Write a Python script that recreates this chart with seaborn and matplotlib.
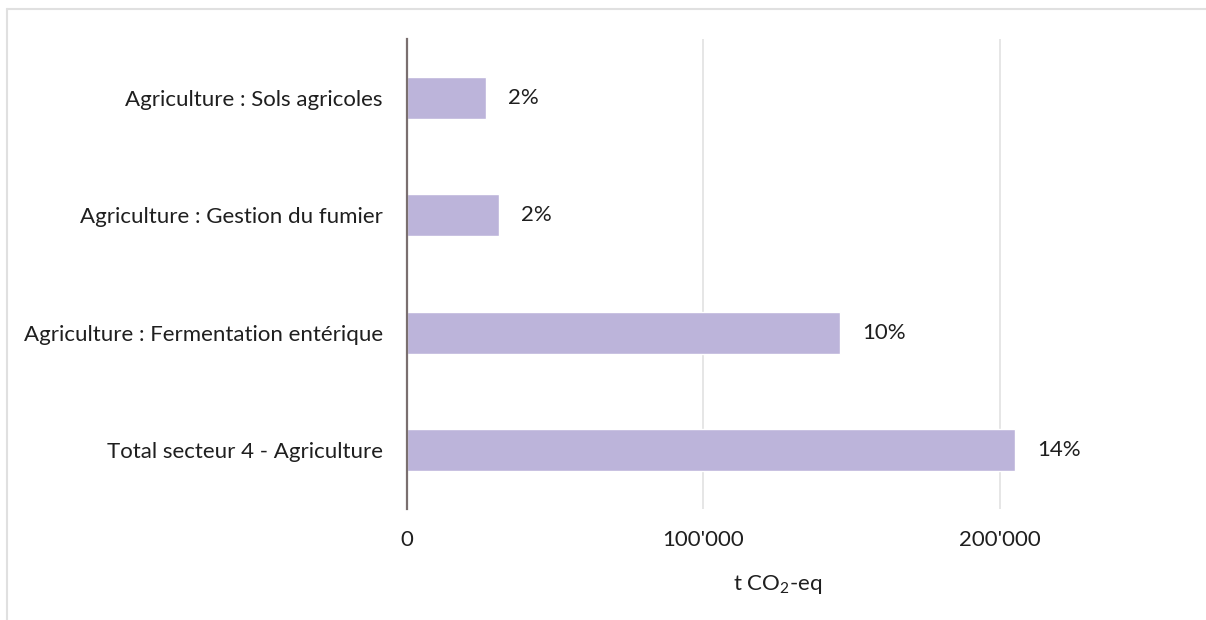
import matplotlib
matplotlib.use("Agg")
import matplotlib.pyplot as plt
import matplotlib.ticker as mticker
from matplotlib.lines import Line2D
import seaborn as sns
import pandas as pd

# donnees
categories = [
    "Agriculture : Sols agricoles",
    "Agriculture : Gestion du fumier",
    "Agriculture : Fermentation entérique",
    "Total secteur 4 - Agriculture",
]
emissions = [26800, 31200, 146300, 205000]
pct_labels = ["2%", "2%", "10%", "14%"]
x_ticks = [0, 100000, 200000]

BAR_COLOR = "#bcb4da"
TEXT_COLOR = "#1f1f1f"
FS = 16

sns.set_theme(style="white")
plt.rcParams["font.family"] = ["Lato", "DejaVu Sans"]
plt.rcParams["mathtext.fontset"] = "custom"
plt.rcParams["mathtext.rm"] = "Lato"

df = pd.DataFrame({"categorie": categories, "emissions": emissions})

fig = plt.figure(figsize=(12.06, 6.2), dpi=100)
ax = fig.add_axes([406.5 / 1206, 111 / 620, (1148 - 406.5) / 1206, 470 / 620])

sns.barplot(data=df, x="emissions", y="categorie", orient="h", color=BAR_COLOR,
            width=0.36, saturation=1, ax=ax)

ax.set_xlim(0, 250000)
ax.set_xticks(x_ticks)
ax.xaxis.set_major_formatter(mticker.FuncFormatter(lambda v, p: f"{int(v):,}".replace(",", "'")))
ax.grid(axis="x", color="#e2e2e2", linewidth=1.2)
ax.set_axisbelow(True)

for side in ["top", "right", "bottom"]:
    ax.spines[side].set_visible(False)
ax.spines["left"].set_color("#7a6f6f")
ax.spines["left"].set_linewidth(1.6)

ax.tick_params(axis="both", length=0, labelsize=FS, labelcolor=TEXT_COLOR)
ax.tick_params(axis="y", pad=17)
ax.tick_params(axis="x", pad=15)

ax.set_ylabel("")
ax.set_xlabel("t CO$_\\mathregular{2}$-eq", fontsize=FS, color=TEXT_COLOR, labelpad=17)

ax.bar_label(ax.containers[0], labels=pct_labels, padding=16, fontsize=FS, color=TEXT_COLOR)

# cadre du graphique (haut et gauche visibles)
fig.add_artist(Line2D([7 / 1206, 1], [1 - 8.5 / 620, 1 - 8.5 / 620], transform=fig.transFigure,
                      color="#e0e0e0", linewidth=1.5))
fig.add_artist(Line2D([7 / 1206, 7 / 1206], [0, 1 - 8.5 / 620], transform=fig.transFigure,
                      color="#e0e0e0", linewidth=1.5))

fig.savefig("out.png", dpi=100, facecolor="white")
